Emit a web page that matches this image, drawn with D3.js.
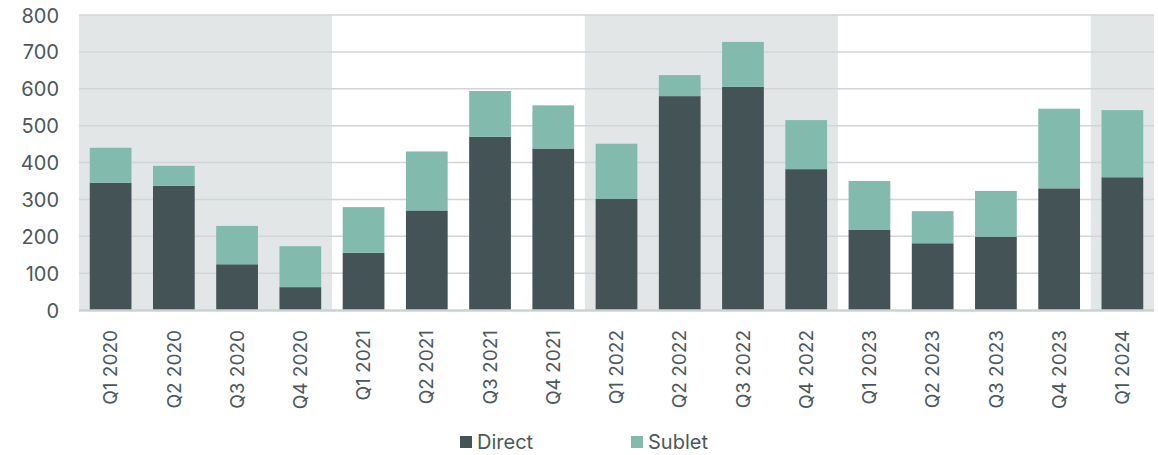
<!DOCTYPE html>
<html>
<head>
<meta charset="utf-8">
<script src="https://cdn.jsdelivr.net/npm/d3@7"></script>
<style>
  body { margin: 0; background: #fff; }
  svg text { font-family: "Inter", "Lato", sans-serif; fill: #4a585b; }
</style>
</head>
<body>
<script>
const quarters = ["Q1 2020", "Q2 2020", "Q3 2020", "Q4 2020",
                  "Q1 2021", "Q2 2021", "Q3 2021", "Q4 2021",
                  "Q1 2022", "Q2 2022", "Q3 2022", "Q4 2022",
                  "Q1 2023", "Q2 2023", "Q3 2023", "Q4 2023",
                  "Q1 2024"];
const direct = [345, 337, 124, 62, 155, 270, 470, 438, 301, 580, 605, 382, 217, 181, 199, 330, 360];
const sublet = [95, 54, 104, 111, 124, 160, 124, 117, 150, 57, 122, 133, 133, 87, 124, 216, 182];
const shadedYears = ["2020", "2022", "2024"];
const yTicks = [0, 100, 200, 300, 400, 500, 600, 700, 800];

document.addEventListener("DOMContentLoaded", () => {
  const w = 1158;
  const h = 455;
  const left = 79, right = 1154, top = 15, bottom = 310;

  const svg = d3.select("body")
  .append("svg")
  .attr("width", w)
  .attr("height", h);

  const x = d3.scaleBand()
  .domain(quarters)
  .range([left, right])
  .paddingInner(0.34)
  .paddingOuter(0.17);

  const y = d3.scaleLinear()
  .domain([0, 800])
  .range([bottom, top]);

  const step = x.step();
  const bandStart = (q) => x(q) - step * 0.17;

  // one shaded block per year
  const years = shadedYears.map((yr) => {
    const qs = quarters.filter((q) => q.slice(3) === yr);
    return { x0: bandStart(qs[0]), x1: bandStart(qs[qs.length - 1]) + step };
  });

  svg.append("g")
  .selectAll("rect")
  .data(years)
  .enter()
  .append("rect")
  .attr("x", (d) => d.x0)
  .attr("y", top)
  .attr("width", (d) => d.x1 - d.x0)
  .attr("height", bottom - top)
  .attr("fill", "#e2e6e7");

  // gridlines
  svg.append("g")
  .selectAll("line")
  .data(yTicks.filter((d) => d > 0))
  .enter()
  .append("line")
  .attr("x1", left)
  .attr("x2", right)
  .attr("y1", (d) => y(d))
  .attr("y2", (d) => y(d))
  .attr("stroke", "#d0d6d7")
  .attr("stroke-width", 1.5);

  // y labels
  const yAxis = svg.append("g")
  .attr("transform", `translate(${left - 20},0)`)
  .call(d3.axisLeft(y).tickValues(yTicks).tickSize(0).tickPadding(0));
  yAxis.select(".domain").remove();
  yAxis.selectAll("text")
  .style("font-size", "20px")
  .attr("dy", "0.35em");

  const stacked = quarters.map((q, i) => ({ q: q, direct: direct[i], sublet: sublet[i] }));

  svg.append("g")
  .selectAll("rect")
  .data(stacked)
  .enter()
  .append("rect")
  .attr("x", (d) => x(d.q))
  .attr("y", (d) => y(d.direct))
  .attr("width", x.bandwidth())
  .attr("height", (d) => y(0) - y(d.direct))
  .attr("fill", "#445356");

  svg.append("g")
  .selectAll("rect")
  .data(stacked)
  .enter()
  .append("rect")
  .attr("x", (d) => x(d.q))
  .attr("y", (d) => y(d.direct + d.sublet))
  .attr("width", x.bandwidth())
  .attr("height", (d) => y(d.direct) - y(d.direct + d.sublet))
  .attr("fill", "#82bbad");

  // baseline
  svg.append("line")
  .attr("x1", left)
  .attr("x2", right)
  .attr("y1", y(0) + 0.5)
  .attr("y2", y(0) + 0.5)
  .attr("stroke", "#cbd2d3")
  .attr("stroke-width", 2.5);

  // x labels
  const xAxis = svg.append("g")
  .attr("transform", `translate(0,${bottom})`)
  .call(d3.axisBottom(x).tickSize(0).tickPadding(0));
  xAxis.select(".domain").remove();
  xAxis.selectAll("text")
  .style("font-size", "19px")
  .attr("transform", "rotate(-90)")
  .attr("text-anchor", "end")
  .attr("x", -20)
  .attr("y", 0)
  .attr("dy", "0.35em");

  // legend
  const legend = [
    { name: "Direct", color: "#445356", x: 460 },
    { name: "Sublet", color: "#82bbad", x: 631 }
  ];
  const lg = svg.append("g")
  .selectAll("g")
  .data(legend)
  .enter()
  .append("g")
  .attr("transform", (d) => `translate(${d.x},436)`);
  lg.append("rect")
  .attr("width", 12)
  .attr("height", 12)
  .attr("fill", (d) => d.color);
  lg.append("text")
  .attr("x", 17)
  .attr("y", 6)
  .attr("dy", "0.36em")
  .style("font-size", "20px")
  .text((d) => d.name);
});
</script>
</body>
</html>
